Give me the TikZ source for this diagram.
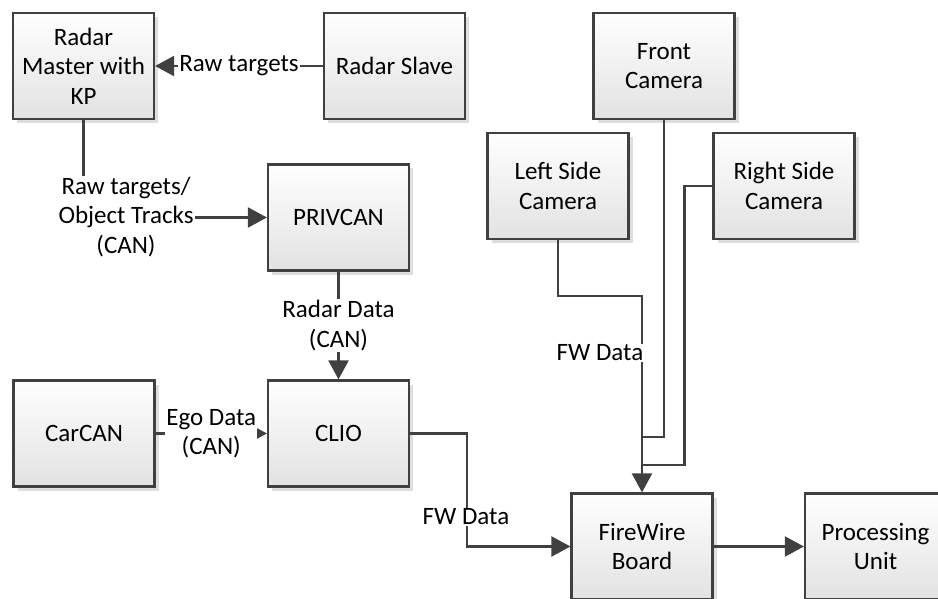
\documentclass[tikz,border=0pt]{standalone}
\usepackage{fontspec}
\setmainfont{Carlito}
\usetikzlibrary{arrows.meta,shadows}

\definecolor{linec}{HTML}{404040}
\definecolor{boxbot}{HTML}{E2E2E2}

\begin{document}
\begin{tikzpicture}[x=1pt,y=-1pt,
  txt/.style={font=\fontsize{25}{29.5}\selectfont, text=black, align=center},
  box/.style={txt, draw=linec, line width=2.2pt, minimum width=141pt, minimum height=106pt,
    inner sep=0pt, top color=white, bottom color=boxbot,
    general shadow={fill=black!13, shadow xshift=4pt, shadow yshift=-4pt}},
  conn/.style={draw=linec, line width=2.2pt},
  arr/.style={conn, -{Triangle[length=19pt,width=20pt]}},
  lbl/.style={txt, fill=white, inner sep=1pt}]

\useasboundingbox (0,0) rectangle (938,599);
\clip (0,0) rectangle (938,599);

% blocks
\node[box] (master)  at (83.5,66)   {Radar\\Master with\\KP};
\node[box] (slave)   at (394.5,66)  {Radar Slave};
\node[box] (privcan) at (338.5,217.5) {PRIVCAN};
\node[box] (carcan)  at (84,433.5)  {CarCAN};
\node[box] (clio)    at (338.5,433.5) {CLIO};
\node[box] (front)   at (664,66)    {Front\\Camera};
\node[box] (leftcam) at (558,186)   {Left Side\\Camera};
\node[box] (rightcam) at (784,186)  {Right Side\\Camera};
\node[box] (fwboard) at (642,546.5) {FireWire\\Board};
\node[box] (proc)    at (875.5,546.5) {Processing\\Unit};

% radar links
\draw[arr] (slave.west) -- node[lbl] {Raw targets} (master.east);
\draw[arr] (master.south) |- (privcan.west);
\node[lbl] (tracks) at (126,217) {Raw targets/\\Object Tracks\\(CAN)};
\draw[arr] (privcan.south) -- node[lbl] {Radar Data\\(CAN)} (clio.north);
\draw[arr] (carcan.east) -- node[lbl] {Ego Data\\(CAN)} (clio.west);

% FireWire links
\draw[arr] (clio.east) -- ++(57,0) |- (fwboard.west);
\node[lbl] (fwclio) at (466,517) {FW Data};

\coordinate (jfront) at (642,437);
\coordinate (jright) at (642,465);
\draw[arr] (leftcam.south) -- ++(0,56) -| (fwboard.north);
\draw[conn] (front.south) |- (jfront);
\draw[conn] (rightcam.west) -- ++(-28,0) |- (jright);
\node[lbl] (fwcam) at (600,353) {FW Data};

\draw[arr] (fwboard.east) -- (proc.west);
\end{tikzpicture}
\end{document}
